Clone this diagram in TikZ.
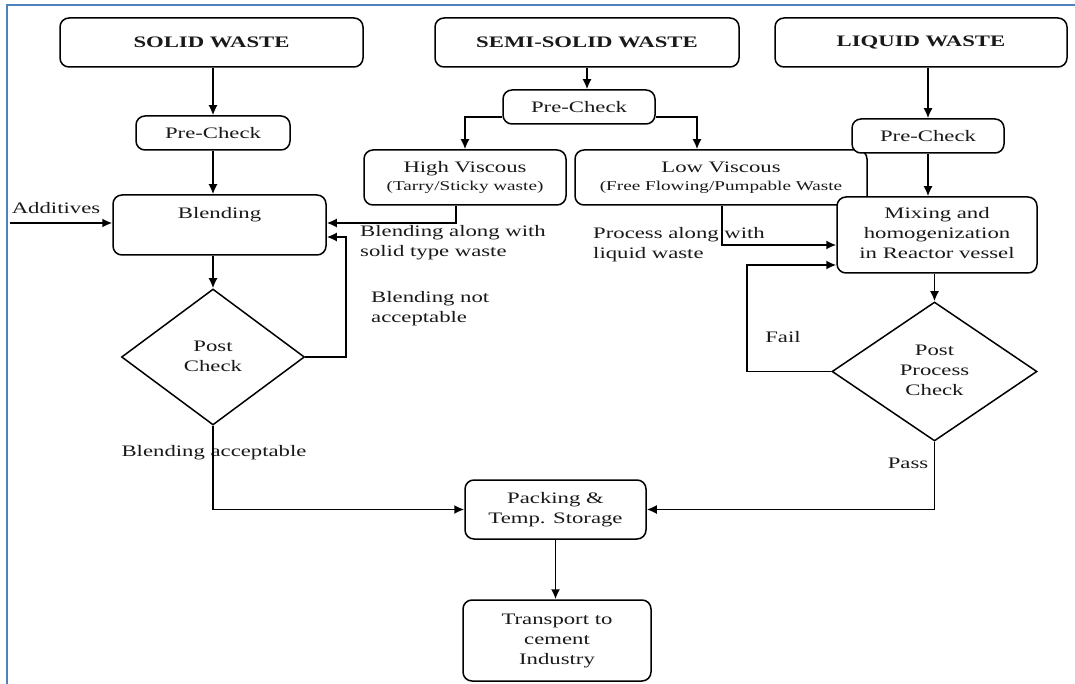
\documentclass[tikz,border=0pt]{standalone}
\usepackage{fontspec}
\setmainfont{Liberation Serif}
\usepackage{graphicx}
\usetikzlibrary{shapes.geometric,arrows.meta}
\definecolor{frameblue}{RGB}{79,129,189}
\newcommand{\sx}[1]{\scalebox{1.42}[1]{#1}}
\newcommand{\sxl}[1]{\sx{\begin{tabular}{@{}c@{}}#1\end{tabular}}}
\newcommand{\sxL}[1]{\sx{\begin{tabular}{@{}l@{}}#1\end{tabular}}}
\newcommand{\subt}{\fontsize{13.5}{15}\selectfont}
\tikzset{
 base/.style={font=\fontsize{16}{20}\selectfont, text=black!90},
 box/.style={base, draw, line width=1.5pt, rounded corners=9pt, fill=white, inner sep=0pt},
 dia/.style={base, draw, line width=1.5pt, diamond, inner sep=0pt, fill=white},
 lbl/.style={base, inner sep=0pt},
 conn/.style={line width=1.7pt, -{Latex[length=10pt,width=9pt]}},
 frame/.style={draw=frameblue, line width=2pt}
}
\begin{document}
\begin{tikzpicture}[x=1pt,y=-1pt]
\useasboundingbox (0,0) rectangle (1075,684);
\fill[white] (0,0) rectangle (1075,684);
\draw[frame] (7,700) -- (7,5) -- (1085,5);

% top row
\node[box, minimum width=303pt, minimum height=49pt] (solid) at (211.5,42.5) {\sx{\bfseries SOLID WASTE}};
\node[box, minimum width=304pt, minimum height=49pt] (semi) at (587,42.5) {\sx{\bfseries SEMI-SOLID WASTE}};
\node[box, minimum width=292pt, minimum height=49pt] (liquid) at (921,42.5) {\sx{\bfseries LIQUID WASTE}};

% second level
\node[box, minimum width=154pt, minimum height=34pt] (spre) at (213,133) {\sx{Pre-Check}};
\node[box, minimum width=152pt, minimum height=34pt] (mpre) at (579,107) {\sx{Pre-Check}};
\node[box, minimum width=202pt, minimum height=55pt] (high) at (465,177.5) {\sxl{High Viscous\\[-2pt]{\subt (Tarry/Sticky waste)}}};
\node[box, minimum width=292pt, minimum height=55pt] (low) at (721,177.5) {\sxl{Low Viscous\\[-2pt]{\subt (Free Flowing/Pumpable Waste}}};
\node[box, minimum width=152pt, minimum height=34pt] (lpre) at (928,136) {\sx{Pre-Check}};

\node[box, minimum width=213pt, minimum height=60pt] (blend) at (219.5,225) {\sxl{Blending\\ ~}};
\node[box, minimum width=200pt, minimum height=76pt] (mix) at (937,235) {\sxl{Mixing and\\homogenization\\in Reactor vessel}};

\node[dia, minimum width=183pt, minimum height=136pt] (d1) at (213,357) {\sxl{Post\\Check}};
\node[dia, minimum width=205pt, minimum height=139pt] (d2) at (934.5,371.5) {\sxl{Post\\Process\\Check}};

\node[box, minimum width=181pt, minimum height=59pt] (pack) at (555.5,509.5) {\sxl{Packing \&\\Temp. Storage}};
\node[box, minimum width=188pt, minimum height=81pt] (trans) at (557,640.5) {\sxl{Transport to\\cement\\Industry}};

% labels
\node[lbl] (ladd) at (56,208) {\sx{Additives}};
\node[lbl, anchor=west] (lbaw) at (360,243) {\sxL{Blending along with\\solid type waste}};
\node[lbl, anchor=west] (lbna) at (371,309) {\sxL{Blending not\\acceptable}};
\node[lbl] (lbac) at (214,453) {\sx{Blending acceptable}};
\node[lbl, anchor=west] (lpal) at (593,245) {\sxL{Process along with\\liquid waste}};
\node[lbl] (lfail) at (783,337) {\sx{Fail}};
\node[lbl] (lpass) at (908,463) {\sx{Pass}};

% helper coordinates
\coordinate (add) at (10,223);
\coordinate (h1) at (456,223);
\coordinate (c1) at (346,237);
\coordinate (m1) at (465,117);
\coordinate (m2) at (697,117);
\coordinate (l1) at (722,245);
\coordinate (f1) at (747,265);

% connectors
\draw[conn] (solid.south -| spre.north) -- (spre.north);
\draw[conn] (spre.south) -- (spre.south |- blend.north);
\draw[conn] (add) -- (add -| blend.west);
\draw[conn] (blend.south -| d1.north) -- (d1.north);
\draw[conn] (d1.east) -| (c1) -- (c1 -| blend.east);
\draw[conn] (h1 |- high.south) -- (h1) -- (h1 -| blend.east);
\draw[conn] (semi.south) -- (semi.south |- mpre.north);
\draw[conn] (m1 -| mpre.west) -- (m1) -- (m1 |- high.north);
\draw[conn] (m2 -| mpre.east) -- (m2) -- (m2 |- low.north);
\draw[conn] (liquid.south -| lpre.north) -- (lpre.north);
\draw[conn] (lpre.south) -- (lpre.south |- mix.north);
\draw[conn] (l1 |- low.south) -- (l1) -- (l1 -| mix.west);
\draw[conn] (d2.west) -| (f1) -- (f1 -| mix.west);
\draw[conn] (mix.south -| d2.north) -- (d2.north);
\draw[conn] (d2.south) |- (pack.east);
\draw[conn] (d1.south) |- (pack.west);
\draw[conn] (pack.south) -- (pack.south |- trans.north);
\end{tikzpicture}
\end{document}
